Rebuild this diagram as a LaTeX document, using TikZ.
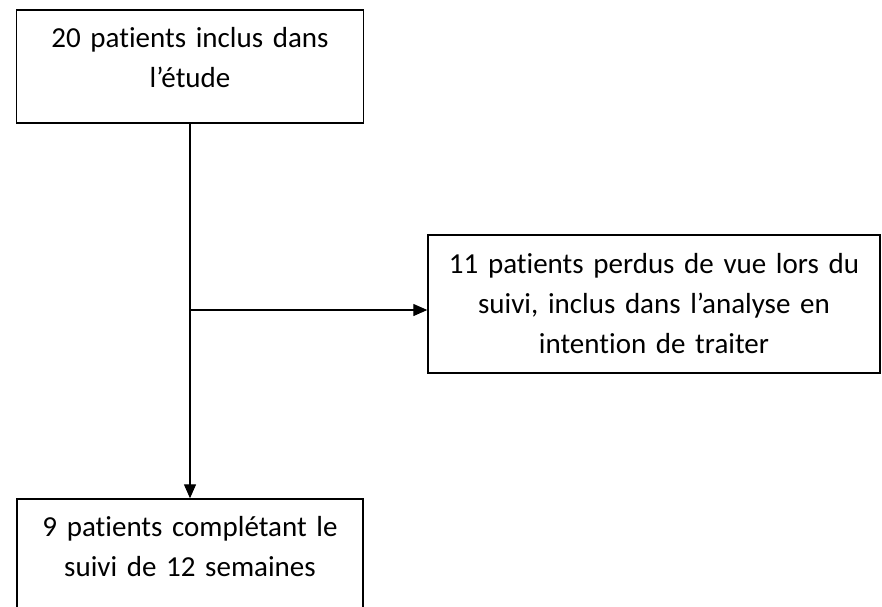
\documentclass[tikz,border=0pt]{standalone}
\usepackage{fontspec}
\setmainfont{Carlito}[Ligatures=NoCommon]
\usetikzlibrary{arrows.meta}

\tikzset{
    boite/.style={draw, line width=1.4pt, inner sep=0pt, align=center,
        font=\fontsize{29}{40}\selectfont,
        execute at begin node={\rule{0pt}{28pt}},
        execute at end node={\rule[-#1]{0pt}{#1}}},
    fleche/.style={->, line width=1.2pt}
}

\begin{document}
\begin{tikzpicture}[>={Triangle[width=12pt,length=14pt]}, x=1pt, y=-1pt]
    % Fix the size of the picture
    \useasboundingbox (0,0) rectangle (882,606);
    \clip (0,0) rectangle (882,606);

    % Draw boxes
    \node[boite=27pt, text width=330pt, minimum width=347pt, minimum height=113pt]
        (inclus) at (190,66.5) {20 patients inclus dans\\ l’étude};
    \node[boite=10pt, text width=440pt, minimum width=452pt, minimum height=138pt]
        (perdus) at (654,304) {11 patients perdus de vue lors du\\ suivi, inclus dans l’analyse en\\ intention de traiter};
    \node[boite=27pt, text width=330pt, minimum width=346pt, minimum height=113pt]
        (complet) at (190,555.5) {9 patients complétant le\\ suivi de 12 semaines};

    % Draw connectors
    \coordinate (branche) at (190,310);
    \draw[fleche] (inclus) -- (complet);
    \draw[fleche] (branche) -- (branche -| perdus.west);
\end{tikzpicture}
\end{document}
